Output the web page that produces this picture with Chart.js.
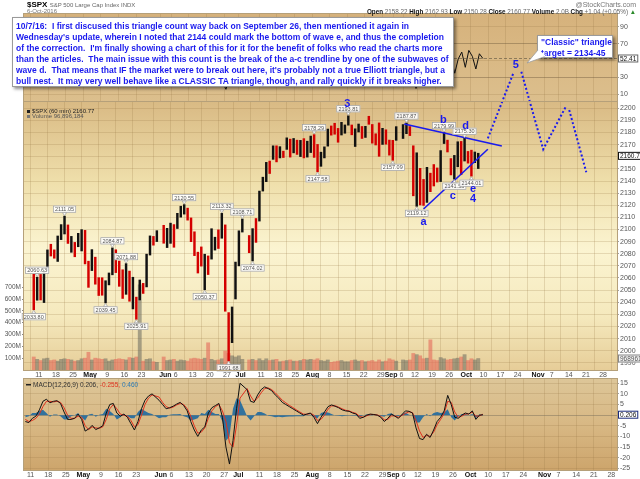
<!DOCTYPE html>
<html><head><meta charset="utf-8">
<script src="https://cdn.jsdelivr.net/npm/chart.js@4.4.0/dist/chart.umd.min.js"></script>
<style>
html,body{margin:0;padding:0;background:#fff;width:640px;height:479px;overflow:hidden;font-family:"Liberation Sans",Arial,sans-serif;}
canvas{position:absolute;left:0;top:0;width:640px;height:479px;}
.t{position:absolute;white-space:pre;line-height:1;}
#note{position:absolute;left:12px;top:17px;width:434px;height:63px;background:#fff;border:1px solid #9a9a9a;box-shadow:2px 2px 3px rgba(0,0,0,0.45);color:#1a1aee;font-size:8.5px;font-weight:bold;line-height:11px;padding:3px 3px 2px 3px;white-space:pre;z-index:5;}
#classic{position:absolute;left:537px;top:35px;width:68px;height:19px;background:#fff;border:1px solid #9a9a9a;box-shadow:2px 2px 3px rgba(0,0,0,0.45);color:#1a1aee;font-size:8.5px;font-weight:bold;line-height:10.5px;padding:1px 3px;white-space:pre;z-index:5;}
</style></head><body>
<canvas id="cRsi" width="640" height="479"></canvas>
<canvas id="cPrice" width="640" height="479"></canvas>
<canvas id="cMacd" width="640" height="479"></canvas>
<svg style="position:absolute;left:0;top:0;z-index:6" width="640" height="479"><polygon points="538,50 545,56.5 527,63" fill="#fff" stroke="#9a9a9a" stroke-width="0.8"/><line x1="538" y1="50.5" x2="545" y2="56" stroke="#fff" stroke-width="1.6"/></svg>
<div class="t" style="left:27px;top:1px;font-size:8px;z-index:7"><b>$SPX</b> <span style="font-size:6px;color:#666">S&amp;P 500 Large Cap Index INDX</span></div>
<div class="t" style="left:27px;top:8px;font-size:6px;color:#777;z-index:7">6-Oct-2016</div>
<div class="t" style="right:4px;top:1px;font-size:7px;color:#777;z-index:7">@StockCharts.com</div>
<div class="t" style="right:4px;top:9px;font-size:6.3px;color:#666;z-index:7"><b style="color:#111">Open</b> 2158.22 <b style="color:#111">High</b> 2162.93 <b style="color:#111">Low</b> 2150.28 <b style="color:#111">Close</b> 2160.77 <b style="color:#111">Volume</b> 2.0B <b style="color:#111">Chg</b> +1.04 (+0.05%) <span style="color:#2a8a2a">&#9650;</span></div>
<div id="note">10/7/16:  I first discused this triangle count way back on September 26, then mentioned it again in
Wednesday's update, wherein I noted that 2144 could mark the bottom of wave e, and thus the completion
of the correction.  I'm finally showing a chart of this for it for the benefit of folks who read the charts more
than the articles.  The main issue with this count is the break of the a-c trendline by one of the subwaves of
wave d.  That means that IF the market were to break out here, it's probably not a true Elliott triangle, but a
bull nest.  It may very well behave like a CLASSIC TA triangle, though, and rally quickly if it breaks higher.</div>
<div id="classic">"Classic" triangle
target = 2134-45</div>
<script>
// ---------------- DATA ----------------
const dates = ['04-07','04-08','04-11','04-12','04-13','04-14','04-15','04-18','04-19','04-20','04-21','04-22','04-25','04-26','04-27','04-28','04-29',
'05-02','05-03','05-04','05-05','05-06','05-09','05-10','05-11','05-12','05-13','05-16','05-17','05-18','05-19','05-20','05-23','05-24','05-25','05-26','05-27','05-31',
'06-01','06-02','06-03','06-06','06-07','06-08','06-09','06-10','06-13','06-14','06-15','06-16','06-17','06-20','06-21','06-22','06-23','06-24','06-27','06-28','06-29','06-30',
'07-01','07-05','07-06','07-07','07-08','07-11','07-12','07-13','07-14','07-15','07-18','07-19','07-20','07-21','07-22','07-25','07-26','07-27','07-28','07-29',
'08-01','08-02','08-03','08-04','08-05','08-08','08-09','08-10','08-11','08-12','08-15','08-16','08-17','08-18','08-19','08-22','08-23','08-24','08-25','08-26','08-29','08-30','08-31',
'09-01','09-02','09-06','09-07','09-08','09-09','09-12','09-13','09-14','09-15','09-16','09-19','09-20','09-21','09-22','09-23','09-26','09-27','09-28','09-29','09-30',
'10-03','10-04','10-05','10-06'];
const opens = [2063.01,2045.54,2050.23,2043.72,2065.92,2082.89,2083.10,2078.83,2096.05,2101.52,2102.09,2091.49,2089.37,2089.84,2092.33,2090.93,2071.82,
2067.17,2077.18,2060.30,2052.95,2047.77,2057.55,2062.63,2083.29,2067.17,2062.50,2046.53,2065.04,2044.38,2044.21,2041.88,2052.23,2052.65,2078.93,2091.44,2090.06,2100.13,
2093.94,2097.71,2104.07,2100.83,2110.18,2112.71,2115.65,2109.57,2091.75,2076.65,2077.60,2066.36,2078.20,2075.58,2085.19,2089.75,2092.80,2103.81,2031.45,2006.67,2042.69,2073.17,
2099.34,2095.05,2084.43,2100.42,2106.97,2131.72,2139.50,2153.81,2157.88,2165.13,2162.04,2163.79,2166.10,2172.91,2166.47,2173.71,2168.97,2169.81,2166.05,2168.83,
2173.15,2169.94,2156.81,2163.51,2168.79,2183.76,2182.24,2182.81,2177.97,2183.74,2186.08,2186.24,2177.84,2181.90,2184.24,2181.58,2187.81,2185.09,2173.29,2175.10,2170.19,2179.45,2173.56,
2171.33,2177.49,2181.61,2185.17,2182.76,2169.08,2120.86,2150.47,2127.86,2125.36,2146.48,2143.99,2145.94,2144.58,2170.94,2173.29,2158.54,2146.04,2161.85,2168.90,2156.51,
2164.33,2163.37,2155.15,2158.22];
const highs = [2063.01,2060.63,2062.93,2065.05,2083.18,2087.84,2083.22,2094.66,2104.05,2111.05,2103.78,2094.32,2089.37,2096.87,2099.89,2099.30,2073.85,
2083.42,2077.18,2060.30,2060.23,2057.72,2064.15,2084.87,2083.29,2073.99,2066.79,2071.88,2065.69,2060.61,2044.21,2058.35,2055.58,2079.67,2094.73,2094.30,2099.06,2103.48,
2100.97,2105.26,2104.07,2113.36,2119.22,2120.55,2117.64,2109.57,2098.12,2081.30,2085.65,2079.62,2078.20,2100.66,2093.66,2099.71,2113.32,2103.81,2031.45,2036.09,2073.13,2098.94,
2108.71,2095.05,2100.72,2109.08,2131.71,2143.16,2155.40,2156.45,2169.05,2169.05,2168.35,2164.63,2175.63,2174.56,2175.11,2173.71,2173.54,2174.98,2172.85,2177.09,
2178.29,2170.20,2163.79,2168.19,2182.87,2185.44,2187.66,2183.41,2188.45,2186.28,2193.81,2186.24,2183.08,2187.03,2185.00,2185.15,2193.42,2186.66,2179.00,2187.94,2183.48,2182.27,2173.79,
2173.56,2184.87,2186.57,2187.87,2184.94,2169.08,2163.30,2150.47,2141.33,2151.31,2146.48,2153.61,2150.80,2165.11,2179.99,2173.75,2158.54,2161.13,2172.40,2172.67,2175.30,
2164.41,2165.46,2163.95,2162.93];
const lows = [2033.80,2041.69,2041.88,2039.74,2065.92,2078.13,2076.31,2073.65,2091.68,2096.32,2088.52,2081.20,2077.52,2085.80,2082.31,2071.62,2052.28,
2066.11,2054.89,2045.55,2045.77,2039.45,2054.31,2062.63,2064.46,2053.13,2043.13,2046.53,2040.82,2034.49,2025.91,2041.88,2047.26,2052.65,2078.93,2087.08,2090.06,2088.66,
2085.10,2088.59,2085.36,2100.83,2110.18,2112.71,2107.73,2089.96,2078.46,2064.10,2069.80,2050.37,2062.84,2075.58,2083.02,2084.36,2092.80,2032.57,1991.68,2006.67,2042.69,2070.00,
2097.90,2080.86,2074.02,2089.39,2106.97,2131.72,2139.50,2146.21,2157.88,2155.79,2159.07,2159.40,2166.10,2159.75,2163.24,2161.95,2160.18,2159.07,2159.74,2163.49,
2159.51,2147.58,2152.14,2159.07,2168.79,2177.85,2178.61,2172.00,2177.97,2179.42,2186.08,2178.14,2168.50,2180.46,2175.13,2175.96,2186.80,2171.25,2169.74,2160.39,2170.19,2170.41,2161.35,
2157.09,2173.59,2175.10,2179.07,2177.49,2127.81,2119.12,2120.27,2119.90,2122.36,2131.20,2135.91,2139.17,2139.57,2170.94,2163.97,2145.04,2141.55,2151.79,2145.20,2156.51,
2154.77,2144.01,2155.15,2150.28];
const closes = [2041.91,2047.60,2041.99,2061.72,2082.42,2082.78,2080.73,2094.34,2100.80,2102.40,2091.48,2091.58,2087.79,2091.70,2095.15,2075.81,2065.30,
2081.43,2063.37,2051.12,2050.63,2057.14,2058.69,2084.39,2064.46,2064.11,2046.61,2066.66,2047.21,2047.63,2040.04,2052.32,2048.04,2076.06,2090.54,2090.10,2099.06,2096.95,
2099.33,2105.26,2099.13,2109.41,2112.13,2119.12,2115.48,2096.07,2079.06,2075.32,2071.50,2077.99,2071.22,2083.25,2088.90,2085.45,2113.32,2037.41,2000.54,2036.09,2070.77,2098.86,
2102.95,2088.55,2099.73,2097.90,2129.90,2137.16,2152.14,2152.43,2163.75,2161.74,2166.89,2163.78,2173.02,2165.17,2175.03,2168.48,2169.18,2166.58,2170.06,2173.60,
2170.84,2157.03,2163.79,2164.25,2182.87,2180.89,2181.74,2175.49,2185.79,2184.05,2190.15,2178.15,2182.22,2187.02,2183.87,2182.64,2186.90,2175.44,2172.47,2169.04,2180.38,2176.12,2170.95,
2170.86,2179.98,2186.48,2186.16,2181.30,2127.81,2159.04,2127.02,2125.77,2147.26,2139.16,2139.12,2139.76,2163.12,2177.18,2164.69,2146.10,2159.93,2171.37,2151.13,2168.27,
2161.20,2150.49,2159.73,2160.77];
const volumeM = [110,90,80,95,100,80,85,75,90,95,90,85,75,80,95,100,150,
85,100,95,90,95,75,85,90,95,90,85,105,100,110,720,75,90,95,70,65,110,
80,85,90,75,85,80,75,95,100,95,90,100,230,90,80,85,95,160,140,120,110,120,
90,85,90,80,95,80,95,80,85,90,70,75,80,85,75,75,80,90,85,90,
85,95,80,75,85,65,70,75,80,70,70,80,85,75,80,70,75,80,70,85,70,75,95,
85,75,85,80,85,140,130,120,95,100,255,85,80,105,95,85,90,95,100,110,130,
80,95,85,97];
const rsi = [35,42,40,55,68,62,58,66,68,62,48,50,45,52,55,38,30,
55,38,35,40,50,52,70,45,48,35,58,40,45,32,55,48,70,75,65,70,55,
58,60,52,62,64,66,55,38,32,35,40,45,42,60,55,52,72,25,16,30,68,75,
65,45,55,52,75,72,74,60,70,58,62,55,65,48,62,50,52,48,55,58,
50,32,55,58,70,62,60,48,62,55,65,42,52,58,50,52,55,42,45,45,58,50,42,
48,60,62,58,50,17,45,28,35,55,45,48,45,62,72,52,35,52,60,42,62,
55,40,58,52.41];
const macd = [-3,-3.5,-1.5,-0.5,2.5,6.5,7.5,5.8,6.5,6.8,5.5,1.5,-2,-2,-1.5,0.5,-2,
-7.5,-6.5,-4.8,-6.8,-6,-5,1,5,5.5,1,-0.5,0.5,-1,-4,-7,-3,3,7,9,10,7,
5,3,3.5,4.2,5.2,6,4.5,2,-3,-7,-10,-7,-5.5,1,3.5,4.5,5.5,-1,-15,-23,-12,3,
15,12,6.5,6,9.5,12,13.3,12.5,11.5,9.5,8,6,5,4,3,2,1,0,0.5,1,
-1,-4,-1,1.5,4,4.8,4.2,3.5,2.5,2,1.8,1,0.5,-1.5,-1,0,0.5,0.3,0,-1,-3,-1.5,0.5,
-0.5,-1.5,2,1.8,1,-6,-11,-11.5,-9,-10.5,-7,-3,-1,2,9.3,5,-1,-1.5,0,1,0.5,
2,-2,0,0.206];
const signal = [-2,-3,-2.5,-1.5,0.5,4,6.5,6.5,6.2,6.5,6,3.5,0,-1.5,-1.5,-0.5,-1,
-5,-6.8,-5.5,-6,-6.2,-5.5,-2,3,5,3,0.5,0,-0.5,-2.5,-5.5,-4.5,0,5,8,9.5,8.5,
6,4,3.3,3.8,4.8,5.5,5,3,-0.5,-5,-8.5,-8,-6,-1.5,2,4,5,2,-3,-13,-15,-5,
8,12.5,9,6.5,8,10.5,12.5,12.8,12,10.5,8.8,7,5.8,4.6,3.6,2.5,1.5,0.5,0.4,0.8,
0,-2.5,-2,0,2.8,4.3,4.4,3.8,3,2.3,2,1.3,0.8,-0.6,-1,-0.3,0.3,0.3,0.1,-0.6,-2.2,-2,-0.4,
-0.3,-1,0.8,1.6,1.2,-2.5,-7.5,-10.5,-9.5,-10,-8,-4.5,-2,0.8,6.5,6,1.5,-1,-0.5,0.5,0.6,
1.5,-0.5,-0.4,0.46];
const histogram = [-1,-0.5,1,1,2,2.5,1,-0.7,0.3,0.3,-0.5,-2,-2,-0.5,0,1,-1,
-2.5,0.3,0.7,-0.8,0.2,0.5,3,2,0.5,-2,-1,0.5,-0.5,-1.5,-1.5,1.5,3,2,1,0.5,-1.5,
-1,-1,0.2,0.4,0.4,0.5,-0.5,-1,-2.5,-2,-1.5,1,0.5,2.5,1.5,0.5,0.5,-3,-12,-10,3,8,
7,-0.5,-2.5,-0.5,1.5,1.5,0.8,-0.3,-0.5,-1,-0.8,-1,-0.8,-0.6,-0.6,-0.5,-0.5,-0.5,0.1,0.2,
-1,-1.5,1,1.5,1.2,0.5,-0.2,-0.3,-0.5,-0.3,-0.2,-0.3,-0.3,-0.9,0,0.3,0.2,0,-0.1,-0.4,-0.8,0.5,0.9,
-0.2,-0.5,1.2,0.2,-0.2,-3.5,-3.5,-1,0.5,-0.5,1,1.5,1,1.2,2.8,-1,-2.5,-0.5,0.5,0.5,-0.1,
0.5,-1.5,0.4,-0.255];

const tickDates  = ['04-11','04-18','04-25','05-02','05-09','05-16','05-23','06-01','06-06','06-13','06-20','06-27','07-01','07-11','07-18','07-25','08-01','08-08','08-15','08-22','08-29','09-01','09-06','09-12','09-19','09-26','10-03','10-10','10-17','10-24','11-01','11-07','11-14','11-21','11-28'];
const tickLabels = ['11','18','25','May','9','16','23','Jun','6','13','20','27','Jul','11','18','25','Aug','8','15','22','29','Sep','6','12','19','26','Oct','10','17','24','Nov','7','14','21','28'];
const priceTicks = [1990,2000,2010,2020,2030,2040,2050,2060,2070,2080,2090,2100,2110,2120,2130,2140,2150,2160,2170,2180,2190,2200];
const volumeTicksM = [100,200,300,400,500,600,700];
const rsiTicks = [10,30,50,70,90];
const macdTicks = [-25,-20,-15,-10,-5,0,5,10,15];

// labelled highs / lows
const priceTags = [
 {date:'04-08',price:2060.63,above:true},{date:'04-07',price:2033.80,above:false},
 {date:'04-20',price:2111.05,above:true},{date:'05-06',price:2039.45,above:false},
 {date:'05-10',price:2084.87,above:true},{date:'05-16',price:2071.88,above:true},
 {date:'05-19',price:2025.91,above:false},{date:'06-08',price:2120.55,above:true},
 {date:'06-16',price:2050.37,above:false},{date:'06-23',price:2113.32,above:true},
 {date:'06-27',price:1991.68,above:false},{date:'07-01',price:2108.71,above:true},
 {date:'07-06',price:2074.02,above:false},{date:'08-01',price:2178.29,above:true},
 {date:'08-02',price:2147.58,above:false},{date:'08-15',price:2193.81,above:true},
 {date:'09-01',price:2157.09,above:false},{date:'09-07',price:2187.87,above:true},
 {date:'09-12',price:2119.12,above:false},{date:'09-22',price:2179.99,above:true},
 {date:'09-27',price:2141.55,above:false},{date:'09-30',price:2175.30,above:true},
 {date:'10-04',price:2144.01,above:false}];
// Elliott wave labels (x in trading-day units from Apr 11, y in price)
const waveText = ['3','a','b','c','d','e','4','5'];
const waveDay  = [90.2,112.5,118.3,121.05,124.8,127.0,127.0,139.5];
const wavePrice= [2203.5,2106.4,2190.3,2127.6,2185.4,2133.2,2125.2,2235.7];
// trendlines & projection
const lineBD = [{x:106.85,y:2187.0},{x:135.4,y:2168.9}];
const lineAC = [{x:112.5,y:2116.9},{x:131.3,y:2166.2}];
const projection = [{x:131.3,y:2175.2},{x:138.9,y:2230.0},{x:140.0,y:null},{x:141.1,y:2230.2},{x:147.5,y:2166.2},{x:154.0,y:2200.8},{x:154.5,y:null},{x:155.1,y:2198.6},{x:160.1,y:2147.2}];

// ---------------- HELPERS ----------------
const F = '"Liberation Sans", Arial, sans-serif';
const GRID = 'rgba(150,120,70,0.28)';
const BLUE = '#1a1aee';
function dayIndex(md){ // weekday count from Mon Apr 11 2016
  const [m,d] = md.split('-').map(Number);
  const days = Math.round((Date.UTC(2016,m-1,d) - Date.UTC(2016,3,11))/864e5);
  return Math.floor(days/7)*5 + (((days%7)+7)%7);
}
const dayX = dates.map(dayIndex);
const tickX = tickDates.map(dayIndex);
const X_MIN = -1.875, X_MAX = 166.6;
const monthSet = new Set(['May','Jun','Jul','Aug','Sep','Oct','Nov']);

function xScale(showLabels){
  return {type:'linear', min:X_MIN, max:X_MAX, position:'bottom',
    afterBuildTicks: s => { s.ticks = tickX.map(v=>({value:v})); },
    afterFit: s => { s.height = showLabels ? 9 : 0; s.paddingLeft = 0; s.paddingRight = 0; },
    ticks:{display:showLabels, autoSkip:false, maxRotation:0, minRotation:0, padding:1,
      callback:(v,i)=>tickLabels[i],
      font: ctx => ({family:F, size:7, weight: monthSet.has(tickLabels[ctx.index]) ? 'bold':'normal'}),
      color: ctx => monthSet.has(tickLabels[ctx.index]) ? '#111' : '#555'},
    grid:{color:GRID, drawTicks:false, lineWidth:0.8}, border:{display:false}};
}
function yRight(min,max,ticks,fmt,gridColor){
  return {type:'linear', position:'right', min, max,
    afterBuildTicks: s => { s.ticks = ticks.map(v=>({value:v})); },
    afterFit: s => { s.width = 23; s.paddingTop = 0; s.paddingBottom = 0; },
    ticks:{autoSkip:false, padding:1, font:{family:F,size:7}, color:'#555', callback: fmt || (v=>v)},
    grid:{color: gridColor || GRID, tickLength:2, tickColor:'#888', lineWidth:0.8}, border:{display:false}};
}
function bgPlugin(stops){
  return {id:'bg', beforeDraw(c){
    const {ctx, chartArea:a} = c;
    const g = ctx.createLinearGradient(0,a.top,0,a.bottom);
    stops.forEach(s=>g.addColorStop(s[0],s[1]));
    ctx.save(); ctx.fillStyle = g; ctx.fillRect(a.left,a.top,a.right-a.left,a.bottom-a.top); ctx.restore();
  }, afterDraw(c){
    const {ctx, chartArea:a} = c;
    ctx.save(); ctx.strokeStyle='#b5a07a'; ctx.lineWidth=1;
    ctx.strokeRect(a.left-0.5,a.top-0.5,a.right-a.left+1,a.bottom-a.top+1); ctx.restore();
  }};
}
function valueBox(ctx, a, y, text, stroke, fill, color){
  ctx.save();
  ctx.font = `6.5px ${F}`;
  const w = Math.max(ctx.measureText(text).width + 4, 20);
  ctx.fillStyle = fill || '#fff'; ctx.strokeStyle = stroke; ctx.lineWidth = 1;
  ctx.fillRect(a.right+1, y-4, w, 8); ctx.strokeRect(a.right+1.5, y-3.5, w-1, 7);
  ctx.fillStyle = color || '#111'; ctx.textAlign='left'; ctx.textBaseline='middle';
  ctx.fillText(text, a.right+3, y+0.5);
  ctx.restore();
}
function tag(ctx, x, y, text, above){
  ctx.font = `5.5px ${F}`;
  const w = ctx.measureText(text).width + 4, h = 7;
  const by = above ? y - 3.5 - h : y + 3.5;
  ctx.fillStyle = 'rgba(255,255,255,0.9)'; ctx.strokeStyle = '#9c9c9c'; ctx.lineWidth = 0.7;
  ctx.fillRect(x-w/2, by, w, h); ctx.strokeRect(x-w/2+0.35, by+0.35, w-0.7, h-0.7);
  ctx.beginPath();
  if (above){ ctx.moveTo(x-2, by+h); ctx.lineTo(x+2, by+h); ctx.lineTo(x, y-0.5); }
  else { ctx.moveTo(x-2, by); ctx.lineTo(x+2, by); ctx.lineTo(x, y+0.5); }
  ctx.closePath(); ctx.fillStyle='#fff'; ctx.fill(); ctx.stroke();
  ctx.fillStyle = '#555'; ctx.textAlign='center'; ctx.textBaseline='middle';
  ctx.fillText(text, x, by + h/2 + 0.5);
}

const common = {responsive:false, animation:false, devicePixelRatio:1,
  plugins:{legend:{display:false}, tooltip:{enabled:false}}};

// ---------------- RSI PANEL ----------------
new Chart(document.getElementById('cRsi'), {
  type:'line',
  data:{datasets:[{data: dayX.map((d,i)=>({x:d+0.5, y:rsi[i]})), borderColor:'#111', borderWidth:1, pointRadius:0, tension:0}]},
  options:{...common, layout:{padding:{left:24,right:0,top:14,bottom:377}},
    scales:{x:xScale(false), y:yRight(1,105,rsiTicks, v => v===50 ? '' : v,
      ctx => (ctx.tick && (ctx.tick.value===30 || ctx.tick.value===70)) ? 'rgba(110,90,60,0.55)' : GRID)}},
  plugins:[bgPlugin([[0,'#d6b27c'],[1,'#dcbf8d']]), {id:'rsiExtra', afterDraw(c){
    const {ctx, chartArea:a, scales:{y}} = c;
    const yy = y.getPixelForValue(rsi[rsi.length-1]);
    ctx.save(); ctx.setLineDash([3,2]); ctx.strokeStyle='rgba(90,80,60,0.6)'; ctx.lineWidth=1;
    ctx.beginPath(); ctx.moveTo(a.left,Math.round(yy)+0.5); ctx.lineTo(a.right,Math.round(yy)+0.5); ctx.stroke(); ctx.restore();
    valueBox(ctx, a, yy, rsi[rsi.length-1].toFixed(2), '#666');
  }}]
});

// ---------------- PRICE PANEL ----------------
const priceBars = dayX.map((d,i)=>({x:d+0.5, y:[lows[i], highs[i]]}));
const priceColors = closes.map((c,i)=> c >= opens[i] ? '#111' : '#d40000');
const volBars = dayX.map((d,i)=>({x:d+0.5, y:volumeM[i]*1e6}));
const volColors = closes.map((c,i)=> c >= opens[i] ? 'rgba(105,105,95,0.55)' : 'rgba(228,105,90,0.6)');

new Chart(document.getElementById('cPrice'), {
  type:'bar',
  data:{datasets:[
    {type:'bar', data:volBars, yAxisID:'yv', backgroundColor:volColors, barThickness:3.2, grouped:false, order:10},
    {type:'bar', data:priceBars, yAxisID:'y', backgroundColor:priceColors, barThickness:1.8, grouped:false, order:5},
    {type:'line', data:lineBD, yAxisID:'y', borderColor:'#1a1aee', borderWidth:1.6, pointRadius:0, order:1},
    {type:'line', data:lineAC, yAxisID:'y', borderColor:'#1a1aee', borderWidth:1.6, pointRadius:0, order:1},
    {type:'line', data:projection, yAxisID:'y', borderColor:'#1a1aee', borderWidth:2, borderDash:[2,2.2], pointRadius:0, spanGaps:false, clip:false, order:1}
  ]},
  options:{...common, layout:{padding:{left:0,right:0,top:102,bottom:100}},
    scales:{
      x:xScale(true),
      y:yRight(1984.1,2205.2,priceTicks),
      yv:{type:'linear', position:'left', min:0, max:2265e6,
        afterBuildTicks: s => { s.ticks = volumeTicksM.map(v=>({value:v*1e6})); },
        afterFit: s => { s.width = 24; },
        ticks:{autoSkip:false, padding:1, font:{family:F,size:6.5}, color:'#555', callback:v=>(v/1e6)+'M'},
        grid:{drawOnChartArea:false, tickLength:2, tickColor:'#888'}, border:{display:false}}
    }},
  plugins:[bgPlugin([[0,'#d9ba84'],[0.3,'#efdfab'],[0.55,'#fbf4d1'],[0.8,'#f5e9bd'],[1,'#e6cd98']]), {id:'annot',
    afterDatasetsDraw(c){
      const {ctx, scales:{x,y}, chartArea:a} = c;
      ctx.save();
      priceTags.forEach(t => tag(ctx, x.getPixelForValue(dayIndex(t.date)+0.5), y.getPixelForValue(t.price), t.price.toFixed(2), t.above));
      ctx.fillStyle = BLUE; ctx.font = `bold 11px ${F}`; ctx.textAlign='center'; ctx.textBaseline='middle';
      waveText.forEach((t,i)=> ctx.fillText(t, x.getPixelForValue(waveDay[i]), y.getPixelForValue(wavePrice[i])));
      ctx.font = `6px ${F}`; ctx.fillStyle='#333'; ctx.textAlign='left'; ctx.textBaseline='middle';
      ctx.fillStyle='#222'; ctx.fillRect(a.left+3, a.top+8, 3, 3);
      ctx.fillText('$SPX (60 min) 2160.77', a.left+8, a.top+9.5);
      ctx.fillStyle='#777'; ctx.fillRect(a.left+3, a.top+13, 3, 3);
      ctx.fillStyle='#555'; ctx.fillText('Volume 96,896,184', a.left+8, a.top+14.5);
      ctx.restore();
    },
    afterDraw(c){
      const {ctx, scales:{y,yv}, chartArea:a} = c;
      valueBox(ctx, a, y.getPixelForValue(closes[closes.length-1]), closes[closes.length-1].toFixed(2), '#111');
      valueBox(ctx, a, yv.getPixelForValue(volumeM[volumeM.length-1]*1e6), '96896184', '#888', '#f2f2f2', '#555');
    }}]
});

// ---------------- MACD PANEL ----------------
new Chart(document.getElementById('cMacd'), {
  type:'line',
  data:{datasets:[
    {data: dayX.map((d,i)=>({x:d+0.5, y:histogram[i]})), borderWidth:0, backgroundColor:'rgba(30,105,160,0.9)', fill:'origin', pointRadius:0, tension:0, order:3},
    {data: dayX.map((d,i)=>({x:d+0.5, y:signal[i]})), borderColor:'#e0301e', borderWidth:1, pointRadius:0, tension:0, order:2},
    {data: dayX.map((d,i)=>({x:d+0.5, y:macd[i]})), borderColor:'#111', borderWidth:1, pointRadius:0, tension:0, order:1}
  ]},
  options:{...common, layout:{padding:{left:24,right:0,top:379,bottom:0}},
    scales:{x:xScale(true), y:yRight(-25.8,17,macdTicks, v => v===0 ? '' : v,
      ctx => (ctx.tick && ctx.tick.value===0) ? 'rgba(120,110,90,0.6)' : GRID)}},
  plugins:[bgPlugin([[0,'#ddc698'],[0.5,'#d8b884'],[1,'#cda56c']]), {id:'macdExtra', afterDraw(c){
    const {ctx, chartArea:a, scales:{y}} = c;
    ctx.save(); ctx.font = `6.5px ${F}`; ctx.textBaseline='middle'; ctx.textAlign='left';
    ctx.fillStyle='#222'; ctx.fillRect(a.left+2, a.top+5, 5, 1.5);
    let xx = a.left+9;
    const parts = [['MACD(12,26,9) 0.206, ','#333'],['-0.255, ','#e0301e'],['0.460','#2c7bb5']];
    parts.forEach(p=>{ ctx.fillStyle=p[1]; ctx.fillText(p[0], xx, a.top+6); xx += ctx.measureText(p[0]).width; });
    ctx.restore();
    valueBox(ctx, a, y.getPixelForValue(macd[macd.length-1]), macd[macd.length-1].toFixed(3), '#1a2a7a');
  }}]
});
</script>
</body></html>
